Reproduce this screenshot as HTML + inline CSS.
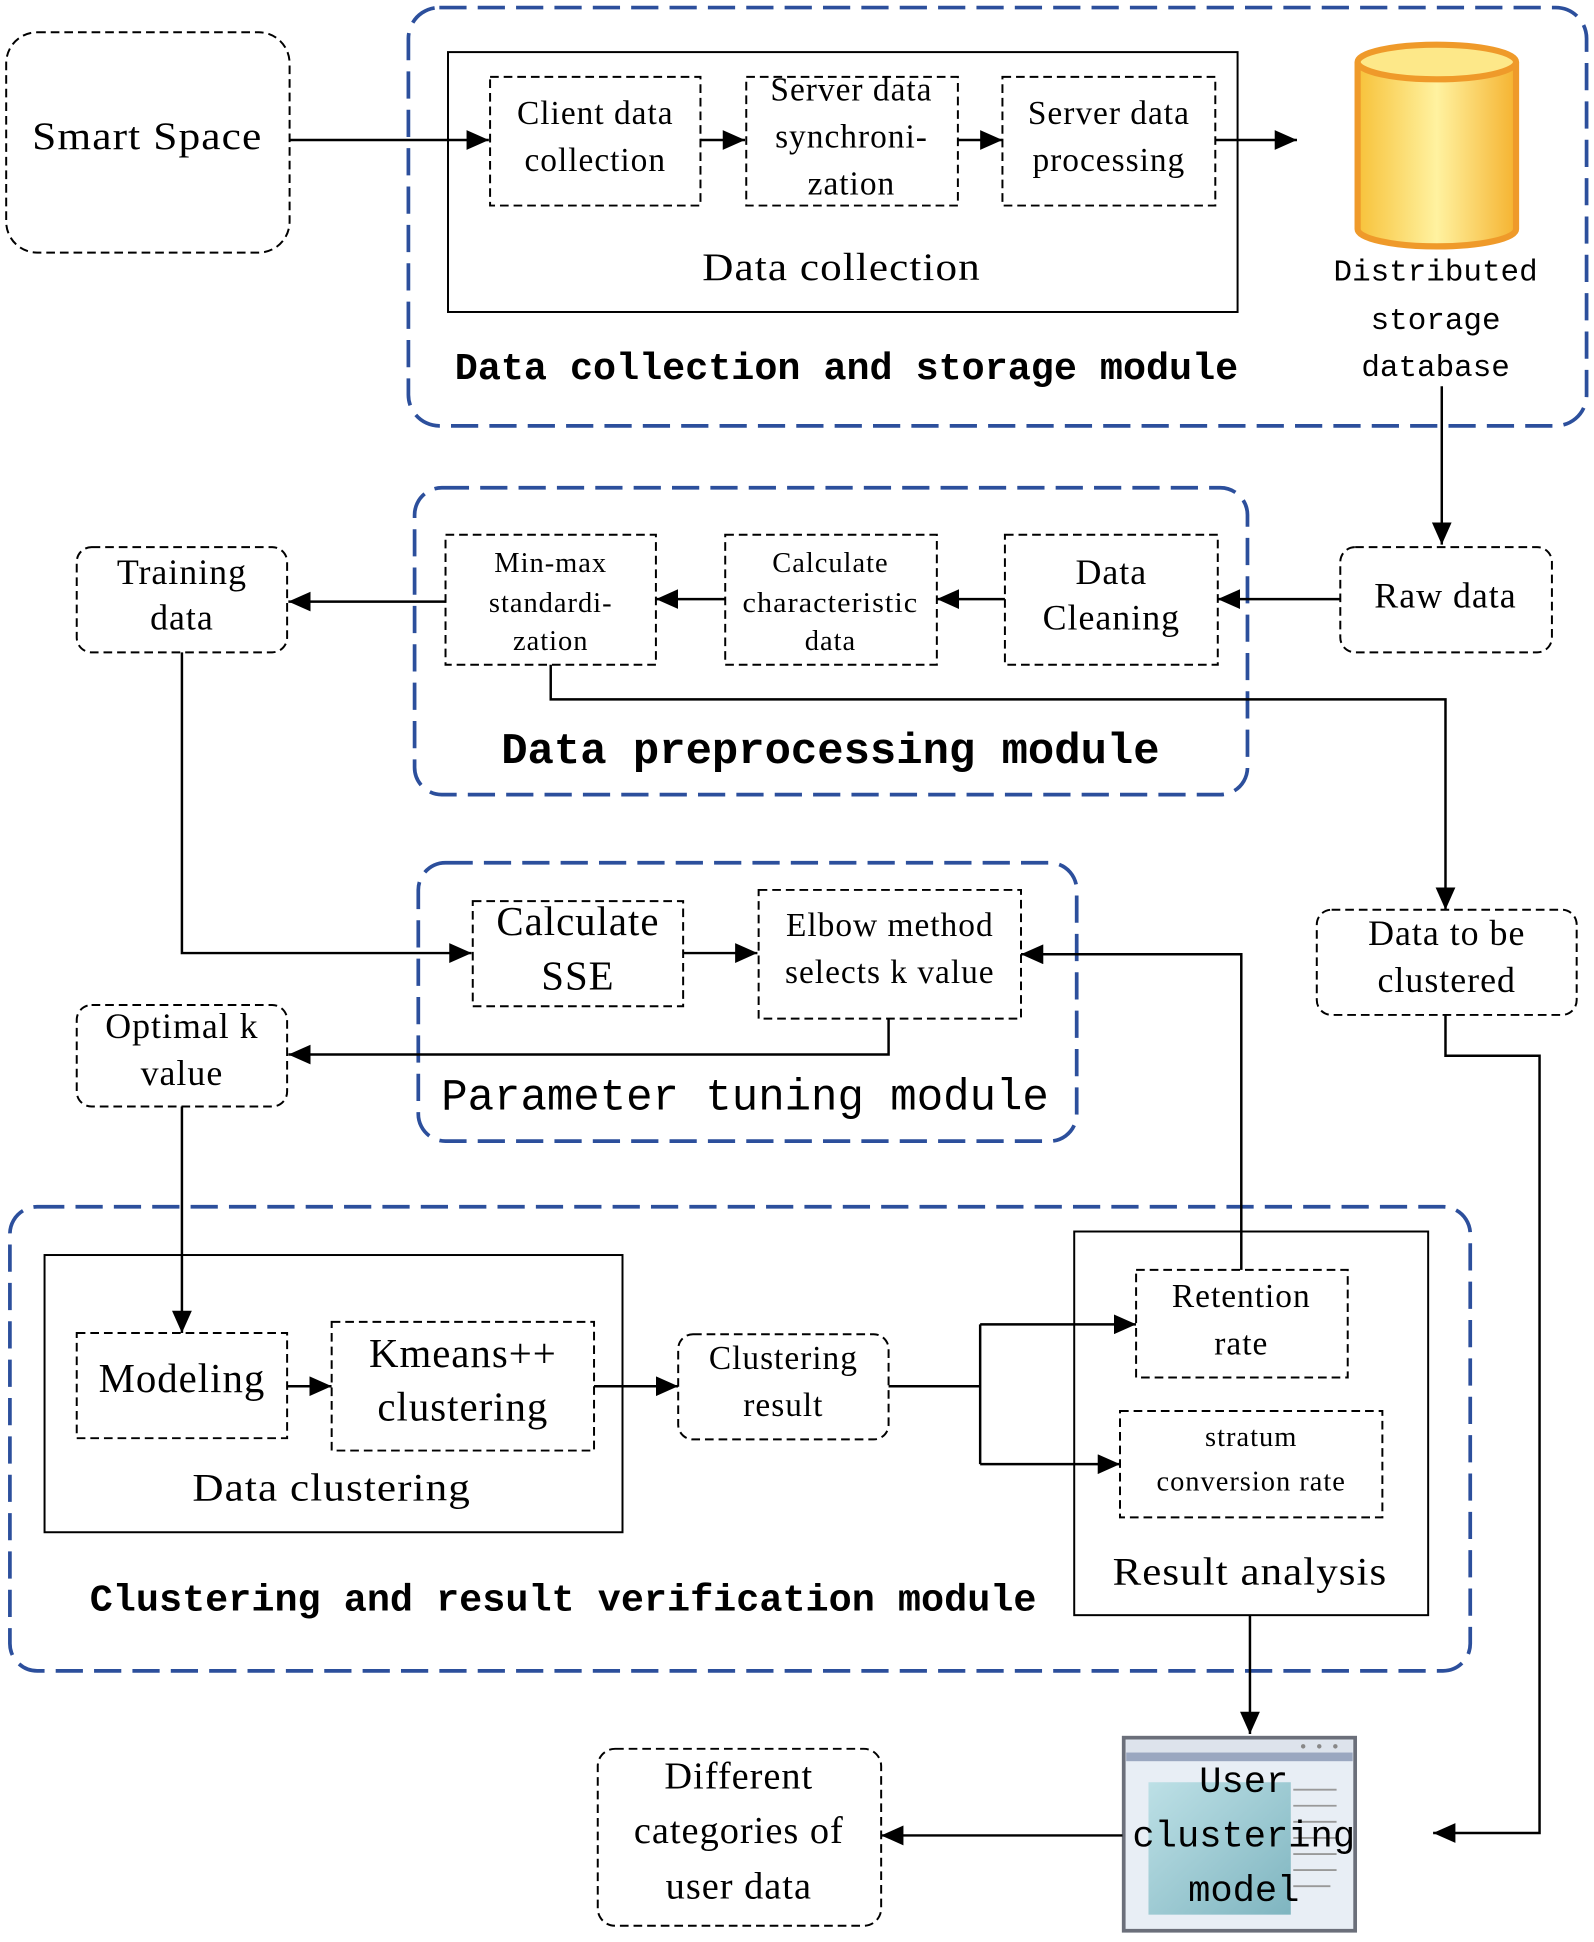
<!DOCTYPE html>
<html><head><meta charset="utf-8"><style>body{margin:0;background:#fff}svg{display:block}</style></head><body>
<svg width="1594" height="1942" viewBox="0 0 1288 1569" xmlns="http://www.w3.org/2000/svg">
<defs>
<marker id="A" markerWidth="18" markerHeight="16" refX="18" refY="8" orient="auto" markerUnits="userSpaceOnUse"><path d="M0,0 L18,8 L0,16 z" fill="#000"/></marker>
<linearGradient id="cy" x1="0" x2="1"><stop offset="0" stop-color="#f7c23a"/><stop offset=".5" stop-color="#fff2a0"/><stop offset="1" stop-color="#f5b330"/></linearGradient>
<linearGradient id="sc" x1="0" x2="1" y1="0" y2="1"><stop offset="0" stop-color="#bde0e6"/><stop offset="1" stop-color="#7fb5c0"/></linearGradient>
</defs>
<style>
.d{fill:#fff;stroke:#000;stroke-width:1.6;stroke-dasharray:7 4}
.s{fill:none;stroke:#000;stroke-width:1.6}
.b{fill:none;stroke:#2c4f9c;stroke-width:3;stroke-dasharray:22 9}
.l{fill:none;stroke:#000;stroke-width:2}
text{font-family:"Liberation Serif",serif;text-anchor:middle;dominant-baseline:middle;fill:#000;letter-spacing:0.8px}
.m{font-family:"Liberation Mono",monospace;letter-spacing:0}
</style>
<rect class="b" x="330" y="6" width="952" height="338" rx="25"/>
<rect class="b" x="335" y="394" width="673" height="248" rx="22"/>
<rect class="b" x="338" y="697" width="532" height="225" rx="22"/>
<rect class="b" x="8" y="975" width="1180" height="375" rx="22"/>
<rect class="d" x="5" y="26" width="229" height="178" rx="25"/>
<text x="119" y="113" font-size="32" textLength="186" lengthAdjust="spacingAndGlyphs">Smart Space</text>
<line class="l" x1="234" y1="113" x2="395" y2="113" marker-end="url(#A)"/>
<rect class="s" x="362" y="42" width="638" height="210"/>
<rect class="d" x="396" y="62" width="170" height="104"/>
<text x="481" y="94" font-size="27">Client data</text><text x="481" y="132" font-size="27">collection</text>
<line class="l" x1="566" y1="113" x2="602" y2="113" marker-end="url(#A)"/>
<rect class="d" x="603" y="62" width="171" height="104"/>
<text x="688" y="75" font-size="27">Server data</text><text x="688" y="113" font-size="27">synchroni-</text><text x="688" y="151" font-size="27">zation</text>
<line class="l" x1="774" y1="113" x2="810" y2="113" marker-end="url(#A)"/>
<rect class="d" x="810" y="62" width="172" height="104"/>
<text x="896" y="94" font-size="27">Server data</text><text x="896" y="132" font-size="27">processing</text>
<line class="l" x1="982" y1="113" x2="1048" y2="113" marker-end="url(#A)"/>
<text x="680" y="219" font-size="32" textLength="225" lengthAdjust="spacingAndGlyphs">Data collection</text>
<text x="684" y="298" font-size="31" class="m" font-weight="bold" textLength="633" lengthAdjust="spacingAndGlyphs">Data collection and storage module</text>
<path d="M1097,50 L1097,185 A64,14 0 0 0 1225,185 L1225,50" fill="url(#cy)" stroke="#ef9a2a" stroke-width="5"/>
<ellipse cx="1161" cy="50" rx="64" ry="14" fill="#fde889" stroke="#ef9a2a" stroke-width="5"/>
<text x="1160" y="220" font-size="25" class="m">Distributed</text><text x="1160" y="259" font-size="25" class="m">storage</text><text x="1160" y="297" font-size="25" class="m">database</text>
<line class="l" x1="1165" y1="312" x2="1165" y2="440" marker-end="url(#A)"/>
<rect class="d" x="1083" y="442" width="171" height="85" rx="12"/>
<text x="1168" y="484" font-size="29">Raw data</text>
<line class="l" x1="1083" y1="484" x2="984" y2="484" marker-end="url(#A)"/>
<rect class="d" x="812" y="432" width="172" height="105"/>
<text x="898" y="465" font-size="29">Data</text><text x="898" y="502" font-size="29">Cleaning</text>
<line class="l" x1="812" y1="484" x2="757" y2="484" marker-end="url(#A)"/>
<rect class="d" x="586" y="432" width="171" height="105"/>
<text x="671" y="457" font-size="23">Calculate</text><text x="671" y="489" font-size="23" textLength="142" lengthAdjust="spacingAndGlyphs">characteristic</text><text x="671" y="520" font-size="23">data</text>
<line class="l" x1="586" y1="484" x2="530" y2="484" marker-end="url(#A)"/>
<rect class="d" x="360" y="432" width="170" height="105"/>
<text x="445" y="457" font-size="23">Min-max</text><text x="445" y="489" font-size="23">standardi-</text><text x="445" y="520" font-size="23">zation</text>
<line class="l" x1="360" y1="486" x2="233" y2="486" marker-end="url(#A)"/>
<rect class="d" x="62" y="442" width="170" height="85" rx="12"/>
<text x="147" y="465" font-size="29">Training</text><text x="147" y="502" font-size="29">data</text>
<polyline class="l" points="445,537 445,565 1168,565 1168,735" marker-end="url(#A)"/>
<text x="671" y="607" font-size="35" class="m" font-weight="bold" textLength="532" lengthAdjust="spacingAndGlyphs">Data preprocessing module</text>
<rect class="d" x="1064" y="735" width="210" height="85" rx="12"/>
<text x="1169" y="757" font-size="29">Data to be</text><text x="1169" y="795" font-size="29">clustered</text>
<polyline class="l" points="1168,820 1168,853 1244,853 1244,1481 1158,1481" marker-end="url(#A)"/>
<polyline class="l" points="147,527 147,770 381,770" marker-end="url(#A)"/>
<rect class="d" x="382" y="728" width="170" height="85"/>
<text x="467" y="748" font-size="33">Calculate</text><text x="467" y="792" font-size="33">SSE</text>
<line class="l" x1="552" y1="770" x2="612" y2="770" marker-end="url(#A)"/>
<rect class="d" x="613" y="719" width="212" height="104"/>
<text x="719" y="750" font-size="27">Elbow method</text><text x="719" y="788" font-size="27">selects k value</text>
<polyline class="l" points="718,823 718,852 233,852" marker-end="url(#A)"/>
<rect class="d" x="62" y="812" width="170" height="82" rx="12"/>
<text x="147" y="832" font-size="29">Optimal k</text><text x="147" y="870" font-size="29">value</text>
<text x="602" y="887" font-size="36" class="m" textLength="491" lengthAdjust="spacingAndGlyphs">Parameter tuning module</text>
<line class="l" x1="147" y1="894" x2="147" y2="1077" marker-end="url(#A)"/>
<rect class="s" x="36" y="1014" width="467" height="224"/>
<rect class="d" x="62" y="1077" width="170" height="85"/>
<text x="147" y="1117" font-size="33">Modeling</text>
<line class="l" x1="232" y1="1120" x2="268" y2="1120" marker-end="url(#A)"/>
<rect class="d" x="268" y="1068" width="212" height="104"/>
<text x="374" y="1097" font-size="33">Kmeans++</text><text x="374" y="1140" font-size="33">clustering</text>
<line class="l" x1="480" y1="1120" x2="548" y2="1120" marker-end="url(#A)"/>
<text x="268" y="1205" font-size="32" textLength="225" lengthAdjust="spacingAndGlyphs">Data clustering</text>
<rect class="d" x="548" y="1078" width="170" height="85" rx="12"/>
<text x="633" y="1100" font-size="27">Clustering</text><text x="633" y="1138" font-size="27">result</text>
<line class="l" x1="718" y1="1120" x2="792" y2="1120"/>
<polyline class="l" points="792,1070 792,1183"/>
<line class="l" x1="792" y1="1070" x2="918" y2="1070" marker-end="url(#A)"/>
<line class="l" x1="792" y1="1183" x2="905" y2="1183" marker-end="url(#A)"/>
<rect class="s" x="868" y="995" width="286" height="310" fill="#fff"/>
<rect class="d" x="918" y="1026" width="171" height="87"/>
<text x="1003" y="1050" font-size="27">Retention</text><text x="1003" y="1088" font-size="27">rate</text>
<rect class="d" x="905" y="1140" width="212" height="86"/>
<text x="1011" y="1163" font-size="23">stratum</text><text x="1011" y="1199" font-size="23">conversion rate</text>
<text x="1010" y="1273" font-size="32" textLength="222" lengthAdjust="spacingAndGlyphs">Result analysis</text>
<polyline class="l" points="1003,1026 1003,771 825,771" marker-end="url(#A)"/>
<text x="455" y="1293" font-size="31" class="m" font-weight="bold" textLength="765" lengthAdjust="spacingAndGlyphs">Clustering and result verification module</text>
<line class="l" x1="1010" y1="1305" x2="1010" y2="1401" marker-end="url(#A)"/>
<rect x="908" y="1404" width="187" height="156" fill="#e8eef5" stroke="#6b6f7a" stroke-width="3"/>
<rect x="910" y="1406" width="183" height="10" fill="#dde3ec"/>
<rect x="910" y="1416" width="183" height="7" fill="#9aa7c0"/>
<circle cx="1053" cy="1411" r="1.8" fill="#888"/><circle cx="1066" cy="1411" r="1.8" fill="#888"/><circle cx="1079" cy="1411" r="1.8" fill="#888"/>
<rect x="928" y="1440" width="115" height="107" fill="url(#sc)"/>
<g stroke="#999" stroke-width="1.5"><line x1="1045" y1="1446" x2="1080" y2="1446"/><line x1="1045" y1="1459" x2="1080" y2="1459"/><line x1="1045" y1="1472" x2="1080" y2="1472"/><line x1="1045" y1="1485" x2="1080" y2="1485"/><line x1="1045" y1="1498" x2="1080" y2="1498"/><line x1="1045" y1="1511" x2="1080" y2="1511"/><line x1="1045" y1="1524" x2="1075" y2="1524"/></g>
<text x="1005" y="1440" font-size="30" class="m">User</text><text x="1005" y="1484" font-size="30" class="m">clustering</text><text x="1005" y="1528" font-size="30" class="m">model</text>
<line class="l" x1="907" y1="1483" x2="712" y2="1483" marker-end="url(#A)"/>
<rect class="d" x="483" y="1413" width="229" height="143" rx="14"/>
<text x="597" y="1438" font-size="31">Different</text><text x="597" y="1482" font-size="31">categories of</text><text x="597" y="1527" font-size="31">user data</text>
</svg>
</body></html>
